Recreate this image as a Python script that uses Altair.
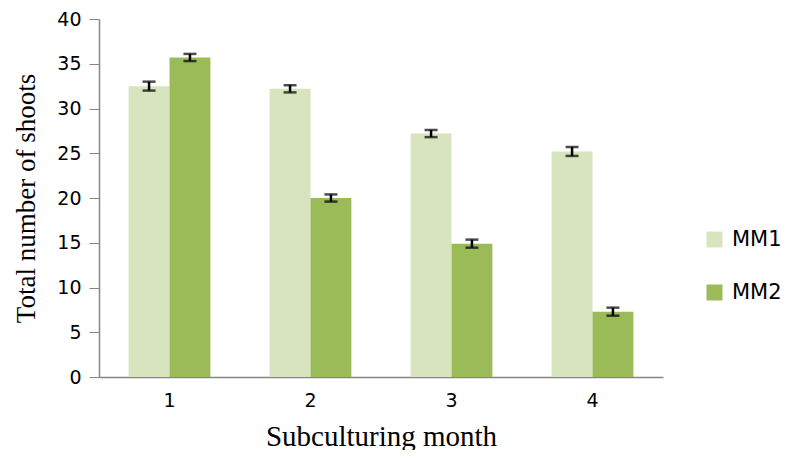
import altair as alt
import pandas as pd

months = ["1", "2", "3", "4"]
series = ["MM1", "MM2"]
mm1 = [32.5, 32.2, 27.2, 25.2]
mm2 = [35.7, 20.0, 14.9, 7.3]
mm1_err = [0.5, 0.4, 0.4, 0.5]
mm2_err = [0.4, 0.4, 0.45, 0.45]
colors = ["#D7E4BD", "#9BBB59"]

rows = []
for s, vals, errs in [("MM1", mm1, mm1_err), ("MM2", mm2, mm2_err)]:
    for m, v, e in zip(months, vals, errs):
        rows.append({"month": m, "series": s, "value": v, "lo": v - e, "hi": v + e})
df = pd.DataFrame(rows)

x_enc = alt.X(
    "month:N",
    scale=alt.Scale(paddingInner=0.42, paddingOuter=0.21),
    axis=alt.Axis(
        title="Subculturing month",
        titleFont="Liberation Serif",
        titleFontSize=29,
        titleFontWeight="normal",
        titleColor="black",
        titlePadding=12,
        labelFont="DejaVu Sans",
        labelFontSize=19,
        labelColor="black",
        labelAngle=0,
        labelPadding=14,
        ticks=False,
        domainColor="#868686",
        domainWidth=1.5,
    ),
)
xo_enc = alt.XOffset("series:N", scale=alt.Scale(domain=series))

base = alt.Chart(df).encode(x=x_enc, xOffset=xo_enc)

bars = base.mark_bar().encode(
    y=alt.Y(
        "value:Q",
        scale=alt.Scale(domain=[0, 40]),
        axis=alt.Axis(
            title="Total number of shoots",
            titleFont="Liberation Serif",
            titleFontSize=27,
            titleFontWeight="normal",
            titleColor="black",
            titlePadding=16,
            labelFont="DejaVu Sans",
            labelFontSize=19,
            labelColor="black",
            labelPadding=8,
            values=[0, 5, 10, 15, 20, 25, 30, 35, 40],
            grid=False,
            tickSize=10,
            tickColor="#868686",
            domainColor="#868686",
            domainWidth=1.5,
        ),
    ),
    color=alt.Color(
        "series:N",
        scale=alt.Scale(domain=series, range=colors),
        legend=alt.Legend(
            title=None,
            orient="none",
            legendX=605,
            legendY=210,
            symbolType="square",
            symbolSize=256,
            symbolStrokeWidth=0,
            labelFont="DejaVu Sans",
            labelFontSize=21,
            labelColor="black",
            labelOffset=7,
            rowPadding=31,
        ),
    ),
)

rules = base.mark_rule(color="black", strokeWidth=2.5).encode(y="lo:Q", y2="hi:Q")
cap_lo = base.mark_tick(color="black", thickness=2.5, size=13).encode(y="lo:Q")
cap_hi = base.mark_tick(color="black", thickness=2.5, size=13).encode(y="hi:Q")

chart = (
    alt.layer(bars, rules, cap_lo, cap_hi)
    .properties(
        width=564,
        height=358,
        autosize=alt.AutoSizeParams(type="none"),
        padding={"left": 91, "top": 11, "right": 120, "bottom": 73},
    )
    .configure_view(stroke=None)
)

chart.save("out.html", embed_options={"renderer": "svg", "actions": False})
